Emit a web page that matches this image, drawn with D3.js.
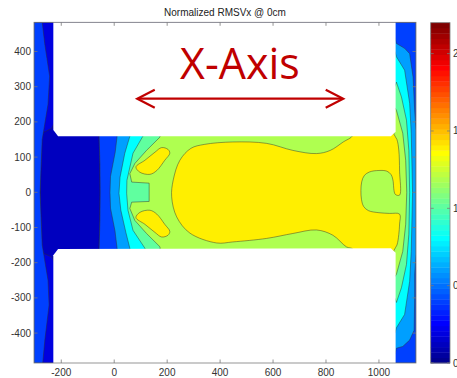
<!DOCTYPE html>
<html>
<head>
<meta charset="utf-8">
<script src="https://cdn.jsdelivr.net/npm/d3@7"></script>
<style>
  html, body { margin: 0; padding: 0; background: #fff; }
  svg { display: block; font-family: "Liberation Sans", Arial, sans-serif; }
</style>
</head>
<body>
<svg id="chart" width="457" height="378"></svg>
<script>
// ---- chart text and ticks ----
const title = "Normalized RMSVx @ 0cm";
const xTicks = [-200, 0, 200, 400, 600, 800, 1000];
const yTicks = [-400, -300, -200, -100, 0, 100, 200, 300, 400];
const cbTicks = [0, 0.5, 1, 1.5, 2];
const cbTickLabels = ["0", "0.5", "1", "1.5", "2"];
const colorRange = [0, 2.2];

// ---- contour levels (filled region = value >= level); the floor band sits below the first level ----
const floorLevel = 0.12;
const levels = [0.2, 0.4, 0.6, 0.8, 1.0, 1.2, 1.4];

// Region outlines in data units (mm). Each level lists shapes; a shape is a list of rings (outer + holes).
const domainRing = [[-303, 483], [1140, 483], [1140, -485], [-303, -485]];
const lowPocket = [[-276, 165], [-262, 172], [-236, 182], [-225, 200], [-57, 200], [-57, 160], [-54, 80],
  [-53, 0], [-54, -80], [-57, -160], [-57, -200], [-225, -200], [-236, -184], [-262, -175], [-276, -167],
  [-279, 0]];

const region04Left = [[-303, 483], [-272, 483], [-262, 420], [-244, 330], [-250, 250], [-272, 150], [-280, 0],
  [-272, -150], [-250, -250], [-246, -320], [-262, -420], [-270, -485], [-303, -485]];
const region04Right = [[-57, 200], [-57, 160], [-54, 80], [-53, 0], [-54, -80], [-57, -160], [-57, -200],
  [1060, -485], [1140, -485], [1140, 483], [1060, 483]];

const region06 = [[11, 200], [1060, 440], [1066, 423], [1097, 409], [1116, 394], [1129, 327], [1135, 233],
  [1140, 176], [1140, -176], [1135, -233], [1135, -300], [1133, -392], [1116, -420], [1090, -438], [1066, -443],
  [1060, -460], [11, -200], [11, -160], [3, -110], [-14, -45], [-16, 0], [-14, 45], [4, 115], [11, 160]];

const region08 = [[59, 200], [1060, 400], [1066, 385], [1097, 347], [1116, 253], [1122, 168], [1127, 0],
  [1122, -168], [1116, -253], [1097, -347], [1066, -385], [1060, -400], [59, -200], [59, -159], [44, -114],
  [25, -51], [18, -3], [22, 43], [40, 111], [59, 159]];

const region10 = [[116, 200], [1060, 300], [1066, 313], [1085, 271], [1104, 205], [1113, 119], [1116, 0],
  [1113, -119], [1104, -205], [1085, -271], [1066, -313], [1060, -300], [116, -200], [116, -159], [71, -108],
  [52, -51], [47, -3], [48, 34], [71, 111], [108, 159]];

const region12 = [[175, 200], [1060, 240], [1066, 233], [1090, 168], [1101, 91], [1105, 0], [1101, -91],
  [1090, -168], [1066, -233], [1060, -240], [175, -200], [173, -155], [122, -117], [78, -80], [59, -46],
  [66, -28], [132, -26], [132, 26], [66, 29], [59, 53], [78, 82], [122, 119], [173, 157]];

const region14Core = [[340, 136], [448, 143], [576, 139], [675, 119], [764, 110], [816, 119], [865, 143],
  [902, 162], [905, 200], [1052, 200], [1057, 165], [1068, 150], [1075, 120], [1078, 60], [1078, -8],
  [1062, -6], [1056, 10], [1054, 30], [1046, 50], [1030, 60], [1000, 62], [965, 58], [945, 48], [935, 30],
  [932, 5], [934, -20], [942, -40], [960, -52], [1000, -58], [1040, -60], [1078, -62], [1078, -90],
  [1075, -120], [1068, -150], [1057, -165], [1052, -200], [905, -200], [902, -162], [877, -155], [826, -122],
  [764, -107], [675, -117], [576, -131], [448, -141], [387, -144], [286, -116], [236, -70], [217, -13],
  [223, 35], [248, 91], [290, 125]];
const region14Upper = [[82, 72], [116, 91], [154, 114], [179, 127], [203, 122], [210, 111], [191, 91],
  [161, 62], [135, 51], [97, 57]];
const region14Lower = [[82, -72], [116, -91], [154, -114], [179, -127], [203, -122], [210, -111], [191, -91],
  [161, -62], [135, -51], [97, -57]];

const levelShapes = [
  [[domainRing, lowPocket]],
  [[region04Left], [region04Right]],
  [[region06]],
  [[region08]],
  [[region10]],
  [[region12]],
  [[region14Core], [region14Upper], [region14Lower]]
];
// Rings traced as smooth curves rather than straight segments
const smoothRings = new Set([region14Core, region14Upper, region14Lower]);

// Areas outside the flow domain (no data)
const noDataTop = [[-230, 490], [1063, 490], [1063, 172], [1045, 159], [-212, 159], [-230, 177]];
const noDataBottom = [[-230, -490], [1063, -490], [1063, -172], [1045, -159], [-212, -161], [-230, -179]];

// Annotation (data units)
const annotationText = "X-Axis";
const annotationPos = [475, 323];
const arrowSpan = [87, 865];
const arrowY = 266;

// ---- MATLAB-style jet(64) colormap ----
function jetMap(m) {
  const n = Math.ceil(m / 4);
  const u = [];
  for (let i = 1; i <= n; i++) u.push(i / n);
  for (let i = 1; i < n; i++) u.push(1);
  for (let i = n; i >= 1; i--) u.push(i / n);
  const g0 = Math.ceil(n / 2) - (m % 4 === 1 ? 1 : 0);
  const cmap = Array.from({length: m}, () => [0, 0, 0]);
  u.forEach((v, k) => {
    const gi = g0 + k, ri = gi + n, bi = gi - n;
    if (gi >= 0 && gi < m) cmap[gi][1] = v;
    if (ri >= 0 && ri < m) cmap[ri][0] = v;
    if (bi >= 0 && bi < m) cmap[bi][2] = v;
  });
  return cmap.map(c => d3.rgb(c[0] * 255, c[1] * 255, c[2] * 255).formatHex());
}
const jet = jetMap(64);
function levelColor(v) {
  const idx = Math.floor((v - colorRange[0]) / (colorRange[1] - colorRange[0]) * 64);
  return jet[Math.max(0, Math.min(63, idx))];
}

// ---- layout ----
const svg = d3.select("#chart");
const plot = {left: 34, right: 416, top: 22.3, bottom: 363};
const x = d3.scaleLinear().domain([-303, 1140]).range([plot.left, plot.right]);
const y = d3.scaleLinear().domain([-485, 483]).range([plot.bottom, plot.top]);
const cb = {left: 430.7, right: 450, top: 22.7, bottom: 363};
const cy = d3.scaleLinear().domain(colorRange).range([cb.bottom, cb.top]);

svg.append("clipPath").attr("id", "plotClip")
  .append("rect").attr("x", plot.left).attr("y", plot.top)
  .attr("width", plot.right - plot.left).attr("height", plot.bottom - plot.top);

const straight = d3.line().x(d => x(d[0])).y(d => y(d[1])).curve(d3.curveLinearClosed);
const smooth = d3.line().x(d => x(d[0])).y(d => y(d[1])).curve(d3.curveCatmullRomClosed.alpha(0.5));
const ring = r => (smoothRings.has(r) ? smooth : straight)(r);
const shapePath = rings => rings.map(r => ring(r)).join("");

const field = svg.append("g").attr("clip-path", "url(#plotClip)");
field.append("path").attr("d", ring(domainRing)).attr("fill", levelColor(floorLevel));
levels.forEach((lv, i) => {
  field.append("g")
    .selectAll("path")
    .data(levelShapes[i])
    .join("path")
    .attr("d", shapePath)
    .attr("fill", levelColor(lv))
    .attr("fill-rule", "evenodd")
    .attr("stroke", "#303030")
    .attr("stroke-opacity", 0.85)
    .attr("stroke-width", 0.55)
    .attr("stroke-linejoin", "round");
});
field.selectAll("path.nodata")
  .data([noDataTop, noDataBottom])
  .join("path")
  .attr("class", "nodata")
  .attr("d", ring)
  .attr("fill", "#ffffff");

// ---- axes box and ticks ----
const axisColor = "#7a7a7a";
const textColor = "#333";
const tickLen = 3.5;
const axes = svg.append("g");
axes.append("rect")
  .attr("x", plot.left).attr("y", plot.top)
  .attr("width", plot.right - plot.left).attr("height", plot.bottom - plot.top)
  .attr("fill", "none").attr("stroke", axisColor).attr("stroke-width", 0.8);

xTicks.forEach(t => {
  const px = x(t);
  axes.append("line").attr("x1", px).attr("x2", px).attr("y1", plot.bottom).attr("y2", plot.bottom - tickLen)
    .attr("stroke", axisColor).attr("stroke-width", 0.8);
  axes.append("line").attr("x1", px).attr("x2", px).attr("y1", plot.top).attr("y2", plot.top + tickLen)
    .attr("stroke", axisColor).attr("stroke-width", 0.8);
  axes.append("text").attr("x", px).attr("y", plot.bottom + 12.5)
    .attr("text-anchor", "middle").attr("font-size", 10).attr("fill", textColor).text(t);
});
yTicks.forEach(t => {
  const py = y(t);
  axes.append("line").attr("x1", plot.left).attr("x2", plot.left + tickLen).attr("y1", py).attr("y2", py)
    .attr("stroke", axisColor).attr("stroke-width", 0.8);
  axes.append("line").attr("x1", plot.right).attr("x2", plot.right - tickLen).attr("y1", py).attr("y2", py)
    .attr("stroke", axisColor).attr("stroke-width", 0.8);
  axes.append("text").attr("x", plot.left - 3).attr("y", py + 3.5)
    .attr("text-anchor", "end").attr("font-size", 10).attr("fill", textColor).text(t);
});

svg.append("text").attr("x", (plot.left + plot.right) / 2).attr("y", 15.5)
  .attr("text-anchor", "middle").attr("font-size", 10).attr("fill", "#222").text(title);

// ---- colorbar ----
const cbg = svg.append("g");
const step = (colorRange[1] - colorRange[0]) / jet.length;
cbg.selectAll("rect.cell")
  .data(jet)
  .join("rect")
  .attr("class", "cell")
  .attr("x", cb.left)
  .attr("width", cb.right - cb.left)
  .attr("y", (c, i) => cy(colorRange[0] + (i + 1) * step))
  .attr("height", (c, i) => cy(colorRange[0] + i * step) - cy(colorRange[0] + (i + 1) * step) + 0.4)
  .attr("fill", c => c);
cbg.append("rect").attr("x", cb.left).attr("y", cb.top)
  .attr("width", cb.right - cb.left).attr("height", cb.bottom - cb.top)
  .attr("fill", "none").attr("stroke", axisColor).attr("stroke-width", 0.8);
cbTicks.forEach((t, i) => {
  const py = cy(t);
  cbg.append("line").attr("x1", cb.left).attr("x2", cb.left + 3).attr("y1", py).attr("y2", py)
    .attr("stroke", axisColor).attr("stroke-width", 0.8);
  cbg.append("line").attr("x1", cb.right).attr("x2", cb.right - 3).attr("y1", py).attr("y2", py)
    .attr("stroke", axisColor).attr("stroke-width", 0.8);
  cbg.append("text").attr("x", cb.right + 3).attr("y", py + 3.5)
    .attr("font-size", 10).attr("fill", textColor).text(cbTickLabels[i]);
});

// ---- annotation ----
const red = "#c00000";
const ann = svg.append("g");
ann.append("text").attr("x", x(annotationPos[0])).attr("y", y(annotationPos[1]))
  .attr("text-anchor", "middle").attr("font-family", "'Open Sans', 'Noto Sans', sans-serif")
  .attr("font-size", 43).attr("fill", red).text(annotationText);
const ax0 = x(arrowSpan[0]), ax1 = x(arrowSpan[1]), ay = y(arrowY);
ann.append("line").attr("x1", ax0 + 1).attr("x2", ax1 - 1).attr("y1", ay).attr("y2", ay)
  .attr("stroke", red).attr("stroke-width", 2.2);
ann.append("path")
  .attr("d", `M${ax0 + 17.5},${ay - 9} L${ax0},${ay} L${ax0 + 17.5},${ay + 9}`)
  .attr("fill", "none").attr("stroke", red).attr("stroke-width", 2.2);
ann.append("path")
  .attr("d", `M${ax1 - 17.5},${ay - 9} L${ax1},${ay} L${ax1 - 17.5},${ay + 9}`)
  .attr("fill", "none").attr("stroke", red).attr("stroke-width", 2.2);
</script>
</body>
</html>
